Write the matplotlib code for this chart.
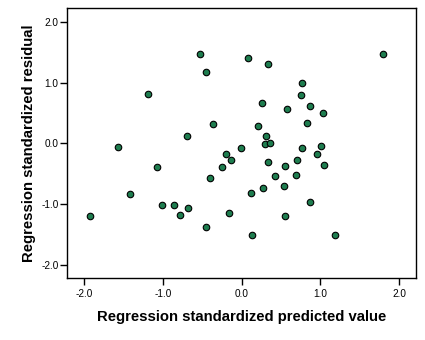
import matplotlib
matplotlib.use("Agg")
import matplotlib.pyplot as plt

# standardized predicted value vs standardized residual
pred = [-0.53, -0.46, -1.19, -0.36, -0.69, -1.57, -0.01, 0.08, 0.33, 1.79,
        0.77, 0.75, 0.26, 0.57, 0.87, 1.03, 0.83, 0.21, 0.31, 0.29,
        0.36, 0.77, 1.01, 0.96, 0.33, 0.55, 0.70, 1.05, 0.42, 0.69,
        0.27, 0.54, 0.12, 0.87, 0.55, 0.13, 1.19, -0.20, -0.14, -1.08,
        -0.25, -0.40, -1.42, -1.01, -0.86, -0.68, -0.79, -1.93, -0.16, -0.46]
resid = [1.47, 1.18, 0.81, 0.32, 0.13, -0.06, -0.08, 1.41, 1.31, 1.48,
         1.00, 0.79, 0.66, 0.57, 0.61, 0.50, 0.33, 0.28, 0.13, -0.01,
         0.01, -0.07, -0.04, -0.18, -0.30, -0.37, -0.28, -0.36, -0.54, -0.52,
         -0.73, -0.70, -0.81, -0.97, -1.19, -1.51, -1.51, -0.17, -0.27, -0.39,
         -0.39, -0.57, -0.83, -1.02, -1.02, -1.07, -1.18, -1.19, -1.15, -1.37]
ticks = [-2.0, -1.0, 0.0, 1.0, 2.0]

plt.rcParams["font.family"] = ["Liberation Sans", "DejaVu Sans"]

fig = plt.figure(figsize=(4.25, 3.4), dpi=100)
ax = fig.add_axes([0.1576, 0.1832, 0.8205, 0.7932])
ax.scatter(pred, resid, s=22, c="#1e7d4f", edgecolors="black", linewidths=0.8, zorder=3)

ax.set_xlim(-2.22, 2.21)
ax.set_ylim(-2.21, 2.23)
ax.set_xticks(ticks)
ax.set_yticks(ticks)
ax.set_xticklabels([f"{t:.1f}" for t in ticks])
ax.set_yticklabels([f"{t:.1f}" for t in ticks])
ax.tick_params(direction="out", length=5, width=1, labelsize=7.2)
ax.tick_params(axis="x", pad=3)
ax.tick_params(axis="y", pad=1)
for sp in ax.spines.values():
    sp.set_linewidth(1)

ax.set_xlabel("Regression standardized predicted value", fontsize=10.7, fontweight="bold", labelpad=8)
ax.set_ylabel("Regression standardized residual", fontsize=10.7, fontweight="bold", labelpad=4)

fig.savefig("out.png", dpi=100)
